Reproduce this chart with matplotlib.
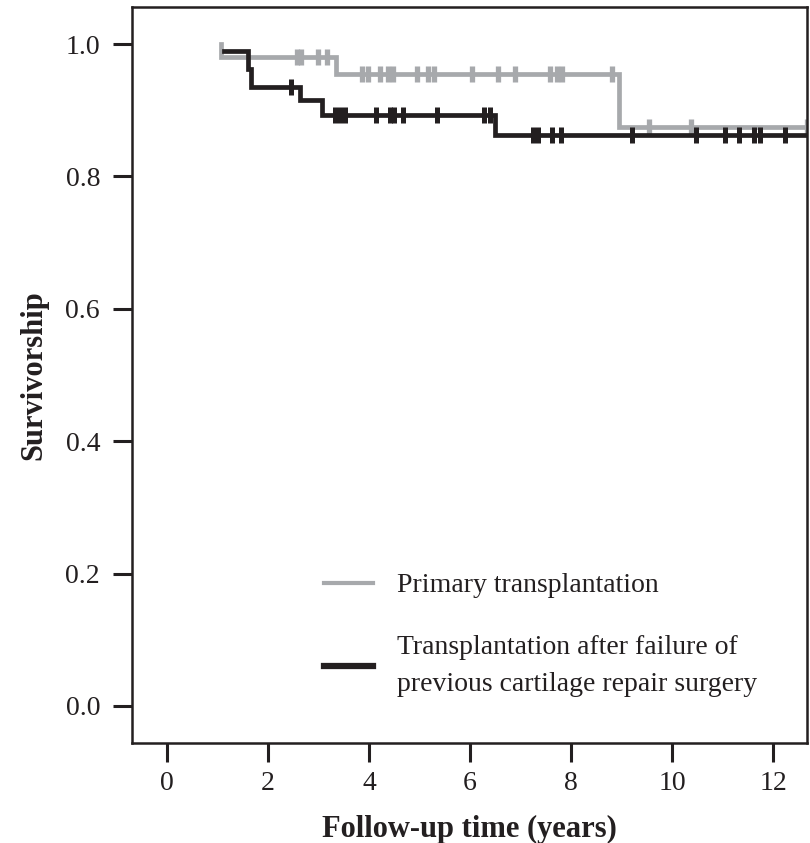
import numpy as np
import matplotlib
matplotlib.use("Agg")
import matplotlib.pyplot as plt

plt.rcParams['font.family'] = ['Liberation Serif', 'DejaVu Serif']

# Kaplan-Meier step data (time in years, survivorship)
primary_times = [1.08, 1.08, 3.35, 8.94, 12.7]
primary_surv = [1.000, 0.981, 0.955, 0.875, 0.875]
primary_censor = [2.57, 2.65, 3.00, 3.16, 3.86, 3.98, 4.21, 4.37, 4.47, 4.96,
                  5.16, 5.29, 6.03, 6.56, 6.89, 7.58, 7.73, 7.83, 8.81, 9.54,
                  10.37, 12.67]

revision_times = [1.14, 1.60, 1.66, 2.64, 3.07, 6.50, 12.7]
revision_surv = [0.990, 0.962, 0.935, 0.915, 0.893, 0.863, 0.863]
revision_censor = [2.45, 3.33, 3.42, 3.52, 4.13, 4.41, 4.50, 4.67, 5.34, 6.27,
                   6.39, 7.24, 7.35, 7.62, 7.80, 9.20, 10.47, 11.04, 11.32,
                   11.62, 11.74, 12.23]

labels = ["Primary transplantation",
          "Transplantation after failure of\nprevious cartilage repair surgery"]
x_ticks = [0, 2, 4, 6, 8, 10, 12]
y_ticks = [0.0, 0.2, 0.4, 0.6, 0.8, 1.0]

grey = "#a7a9ac"
black = "#231f20"


def surv_at(t, times, surv):
    idx = np.searchsorted(np.array(times), t, side="right") - 1
    idx = np.clip(idx, 0, len(surv) - 1)
    return np.array(surv)[idx]


fig = plt.figure(figsize=(8.10, 8.43), dpi=100)
ax = fig.add_axes([0.163, 0.1186, 0.8333, 0.8731])

ax.step(primary_times, primary_surv, where="post", color=grey, lw=3.4,
        label=labels[0], solid_joinstyle="miter")
ax.plot(primary_censor, surv_at(primary_censor, primary_times, primary_surv),
        ls="none", marker="|", ms=12, mew=3.8, color=grey)

ax.step(revision_times, revision_surv, where="post", color=black, lw=3.4,
        label=labels[1], solid_joinstyle="miter")
ax.plot(revision_censor, surv_at(revision_censor, revision_times, revision_surv),
        ls="none", marker="|", ms=12, mew=3.6, color=black)

ax.set_xlim(-0.69, 12.67)
ax.set_ylim(-0.056, 1.056)
ax.set_xticks(x_ticks)
ax.set_xticklabels([str(v) for v in x_ticks])
ax.set_yticks(y_ticks)
ax.set_yticklabels([f"{v:.1f}" for v in y_ticks])

for s in ax.spines.values():
    s.set_linewidth(1.8)
    s.set_color("#231f20")
ax.tick_params(axis="both", direction="out", length=14, width=2.2,
               color="#231f20", labelsize=20, labelcolor="#231f20")
ax.tick_params(axis="x", pad=6)
ax.tick_params(axis="y", pad=9)

ax.set_xlabel("Follow-up time (years)", fontsize=22, fontweight="bold",
              color="#231f20", labelpad=14)
ax.set_ylabel("Survivorship", fontsize=22, fontweight="bold",
              color="#231f20", labelpad=12)

leg = ax.legend(loc="upper left", bbox_to_anchor=(0.285, 0.231), frameon=False,
                fontsize=20, handlelength=1.75, handletextpad=0.85,
                labelspacing=1.3, borderpad=0, borderaxespad=0)
for t in leg.get_texts():
    t.set_color("#231f20")
    t.set_linespacing(1.65)
leg.legend_handles[0].set_linewidth(3.0)
leg.legend_handles[1].set_linewidth(4.5)

fig.savefig("out.png", dpi=100)
